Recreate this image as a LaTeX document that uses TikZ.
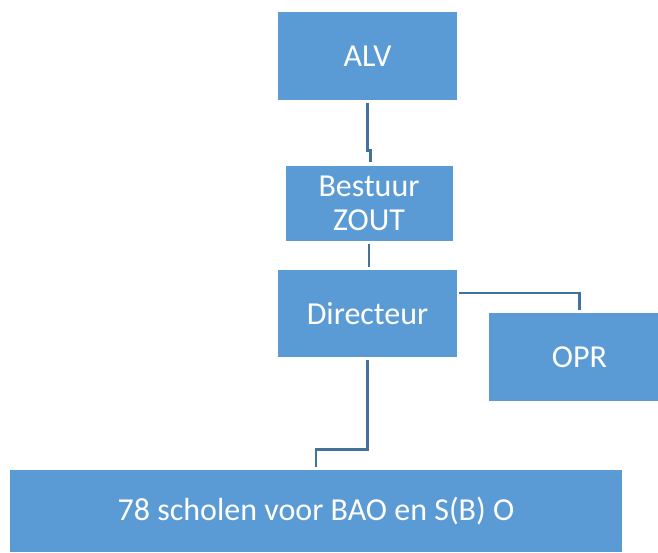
\documentclass[tikz,border=0pt]{standalone}
\usepackage{fontspec}
\setmainfont{Carlito}
\usepackage{xcolor}
\usetikzlibrary{positioning,calc}
\definecolor{boxblue}{HTML}{5B9BD5}
\definecolor{linkblue}{HTML}{41719C}

\begin{document}
\begin{tikzpicture}[
    x=1pt, y=-1pt,
    font=\fontsize{32}{34}\selectfont,
    unit/.style={rectangle, fill=boxblue, text=white, align=center, inner sep=0pt},
    link/.style={draw=linkblue, line width=2.6pt, shorten <=3pt, shorten >=3pt}
]
    \useasboundingbox (0,0) rectangle (658,552);

    % Boxes
    \node[unit, minimum width=179pt, minimum height=88pt] (alv) at (367.5, 56) {ALV};
    \node[unit, minimum width=167pt, minimum height=75pt] (bestuur) at (369, 203) {Bestuur\\ZOUT};
    \node[unit, minimum width=179pt, minimum height=87pt] (dir) at (367.5, 313.5) {Directeur};
    \node[unit, minimum width=181pt, minimum height=88pt] (opr) at (579.5, 357) {OPR};
    \node[unit, minimum width=612pt, minimum height=82pt] (scholen) at (316, 511) {78 scholen voor BAO en S(B) O};

    % Links
    \draw[link] (alv.south) -- ++(0,50) -| ([xshift=1.5pt]bestuur.north);
    \draw[link] (bestuur.south) -- (bestuur.south |- dir.north);
    \draw[link, shorten <=2pt] ([yshift=-23pt]dir.north east) -| (opr.north);
    \draw[link] (dir.south) -- ++(0,92) -| (scholen.north);

\end{tikzpicture}
\end{document}
